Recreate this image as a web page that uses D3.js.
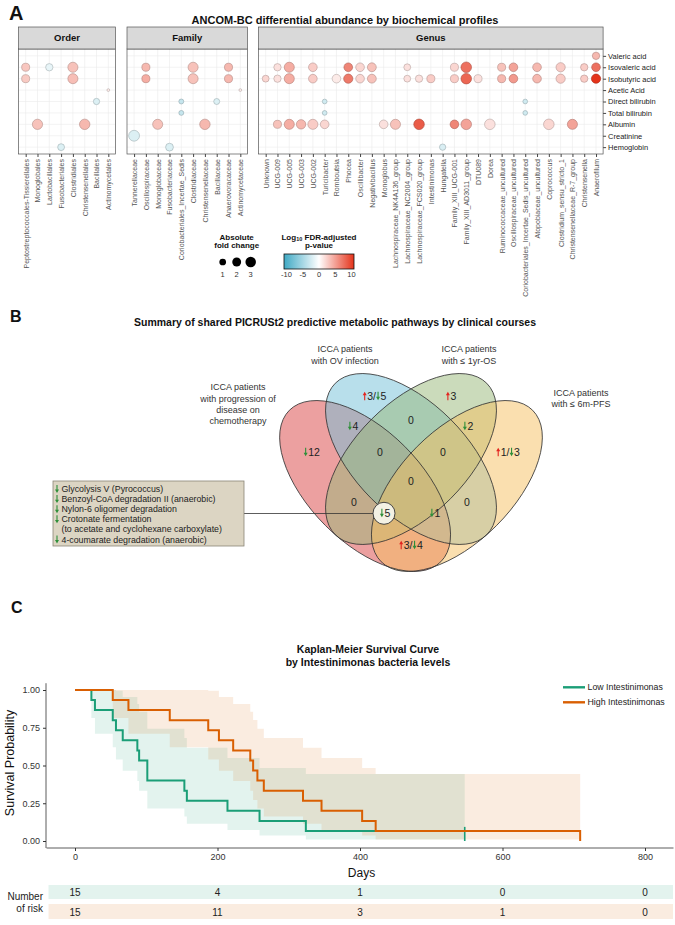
<!DOCTYPE html>
<html><head><meta charset="utf-8">
<script src="https://cdn.jsdelivr.net/npm/d3@7"></script>
<style>body{margin:0;background:#fff}svg{display:block;font-family:"Liberation Sans",Arial,sans-serif}</style>
</head><body><svg id="c" width="675" height="925"></svg>
<script>
// ================= DATA =================
// Panel A
const titleA = "ANCOM-BC differential abundance by biochemical profiles";
const rowLabels = ["Valeric acid","Isovaleric acid","Isobutyric acid","Acetic Acid","Direct bilirubin","Total bilirubin","Albumin","Creatinine","Hemoglobin"];
const orderTaxa = ["Peptostreptococcales-Tissierellales","Monoglobales","Lactobacillales","Fusobacteriales","Clostridiales","Christensenellales","Bacillales","Actinomycetales"];
const familyTaxa = ["Tannerellaceae","Oscillospiraceae","Monoglobaceae","Fusobacteriaceae","Coriobacteriales_Incertae_Sedis","Clostridiaceae","Christensenellaceae","Bacillaceae","Anaerovoracaceae","Actinomycetaceae"];
const genusTaxa = ["Unknown","UCG-009","UCG-005","UCG-003","UCG-002","Turicibacter","Romboutsia","Phocea","Oscillibacter","Negativibacillus","Monoglobus","Lachnospiraceae_NK4A136_group","Lachnospiraceae_NC2004_group","Lachnospiraceae_FCS020_group","Intestinimonas","Hungatella","Family_XIII_UCG-001","Family_XIII_AD3011_group","DTU089","Dorea","Ruminococcaceae_uncultured","Oscillospiraceae_uncultured","Coriobacteriales_Incertae_Sedis_uncultured","Atopobiaceae_uncultured","Coprococcus","Clostridium_sensu_stricto_1","Christensenellaceae_R-7_group","Christensenella","Anaerofilum"];
// [taxon, profile, absolute fold change, log10 FDR-adjusted p-value (signed)]
const orderDots = [
 ["Peptostreptococcales-Tissierellales","Isovaleric acid",1.5,2.8],
 ["Lactobacillales","Isovaleric acid",1.2,-1.2],
 ["Clostridiales","Isovaleric acid",2.6,3],
 ["Peptostreptococcales-Tissierellales","Isobutyric acid",1.5,2.6],
 ["Clostridiales","Isobutyric acid",2.6,3.2],
 ["Actinomycetales","Acetic Acid",0.05,1],
 ["Bacillales","Direct bilirubin",0.8,-1.8],
 ["Monoglobales","Albumin",2.7,3],
 ["Christensenellales","Albumin",2.8,3.5],
 ["Fusobacteriales","Hemoglobin",1.0,-1.8]
];
const familyDots = [
 ["Oscillospiraceae","Isovaleric acid",1.5,3.5],
 ["Clostridiaceae","Isovaleric acid",2.6,3],
 ["Anaerovoracaceae","Isovaleric acid",1.5,3.5],
 ["Oscillospiraceae","Isobutyric acid",1.5,4],
 ["Clostridiaceae","Isobutyric acid",2.6,3],
 ["Anaerovoracaceae","Isobutyric acid",1.5,3.5],
 ["Actinomycetaceae","Acetic Acid",0.05,1],
 ["Coriobacteriales_Incertae_Sedis","Direct bilirubin",0.4,-3],
 ["Bacillaceae","Direct bilirubin",0.7,-1.8],
 ["Coriobacteriales_Incertae_Sedis","Total bilirubin",0.4,-3],
 ["Monoglobaceae","Albumin",2.6,3],
 ["Christensenellaceae","Albumin",2.8,3.5],
 ["Tannerellaceae","Creatinine",3.1,-1.8],
 ["Fusobacteriaceae","Hemoglobin",1.4,-1.8]
];
const genusDots = [
 ["Anaerofilum","Valeric acid",1.2,3.5],
 ["UCG-009","Isovaleric acid",1.2,1.5],
 ["UCG-005","Isovaleric acid",2.6,4],
 ["UCG-002","Isovaleric acid",1.8,2.5],
 ["Phocea","Isovaleric acid",1.8,6],
 ["Oscillibacter","Isovaleric acid",1.8,2],
 ["Negativibacillus","Isovaleric acid",1.9,3],
 ["Lachnospiraceae_NC2004_group","Isovaleric acid",1.0,1.5],
 ["Family_XIII_UCG-001","Isovaleric acid",1.5,2],
 ["Family_XIII_AD3011_group","Isovaleric acid",2.9,7],
 ["Ruminococcaceae_uncultured","Isovaleric acid",1.5,3],
 ["Oscillospiraceae_uncultured","Isovaleric acid",1.8,4.5],
 ["Atopobiaceae_uncultured","Isovaleric acid",1.8,3.5],
 ["Clostridium_sensu_stricto_1","Isovaleric acid",2.1,2.5],
 ["Christensenella","Isovaleric acid",1.2,2.5],
 ["Anaerofilum","Isovaleric acid",1.8,7],
 ["Unknown","Isobutyric acid",1.0,2],
 ["UCG-009","Isobutyric acid",1.2,1.5],
 ["UCG-005","Isobutyric acid",2.6,4],
 ["UCG-002","Isobutyric acid",1.8,2.5],
 ["Romboutsia","Isobutyric acid",1.8,1],
 ["Phocea","Isobutyric acid",2.1,6.5],
 ["Oscillibacter","Isobutyric acid",1.8,2],
 ["Negativibacillus","Isobutyric acid",1.9,3],
 ["Lachnospiraceae_NC2004_group","Isobutyric acid",1.0,1.5],
 ["Lachnospiraceae_FCS020_group","Isobutyric acid",1.2,1.5],
 ["Intestinimonas","Isobutyric acid",1.5,2.5],
 ["Family_XIII_UCG-001","Isobutyric acid",1.5,2.5],
 ["Family_XIII_AD3011_group","Isobutyric acid",2.9,7.5],
 ["DTU089","Isobutyric acid",1.5,1.5],
 ["Ruminococcaceae_uncultured","Isobutyric acid",1.5,3.5],
 ["Oscillospiraceae_uncultured","Isobutyric acid",1.8,5],
 ["Atopobiaceae_uncultured","Isobutyric acid",1.8,3.5],
 ["Clostridium_sensu_stricto_1","Isobutyric acid",2.1,2.5],
 ["Christensenella","Isobutyric acid",1.2,2.5],
 ["Anaerofilum","Isobutyric acid",2.1,10],
 ["Turicibacter","Direct bilirubin",0.35,-2.5],
 ["Coriobacteriales_Incertae_Sedis_uncultured","Direct bilirubin",0.35,-2.5],
 ["Turicibacter","Total bilirubin",0.35,-2.5],
 ["Coriobacteriales_Incertae_Sedis_uncultured","Total bilirubin",0.35,-2.5],
 ["UCG-009","Albumin",1.5,3],
 ["UCG-005","Albumin",2.6,4],
 ["UCG-003","Albumin",2.2,3.5],
 ["UCG-002","Albumin",2.6,2.5],
 ["Turicibacter","Albumin",1.8,2],
 ["Monoglobus","Albumin",1.8,1.5],
 ["Lachnospiraceae_NK4A136_group","Albumin",2.6,3],
 ["Lachnospiraceae_FCS020_group","Albumin",2.9,8],
 ["Family_XIII_UCG-001","Albumin",1.8,6],
 ["Family_XIII_AD3011_group","Albumin",2.9,4.5],
 ["Dorea","Albumin",2.9,1.5],
 ["Coprococcus","Albumin",2.9,2],
 ["Christensenellaceae_R-7_group","Albumin",2.6,4.5],
 ["Hungatella","Hemoglobin",0.8,-2]
];
const sizeBreaks = [1,2,3];
const colorBreaks = [-10,-5,0,5,10];

// Panel B
const titleB = "Summary of shared PICRUSt2 predictive metabolic pathways by clinical courses";
const setNames = [
 ["ICCA patients","with progression of","disease on","chemotherapy"],
 ["ICCA patients","with OV infection"],
 ["ICCA patients","with \u2264 1yr-OS"],
 ["ICCA patients","with \u2264 6m-PFS"]
];
const regionKeys = ["P","O","S","F","PO","OS","SF","POS","OSF","POSF","PS","PSF","POF","OF","PF"];
const regionUp   = [0,3,3,1,0,0,0,0,0,0,0,0,0,0,3];
const regionDown = [12,5,0,3,4,0,2,0,0,0,0,5,1,0,4];
const sharedPathways = ["Glycolysis V (Pyrococcus)","Benzoyl-CoA degradation II (anaerobic)","Nylon-6 oligomer degradation","Crotonate fermentation|(to acetate and cyclohexane carboxylate)","4-coumarate degradation (anaerobic)"];

// Panel C
const titleC = ["Kaplan-Meier Survival Curve","by Intestinimonas bacteria levels"];
const groups = ["Low Intestinimonas","High Intestinimonas"];
const lowTimes = [0,23,28,53,57.5,67,87.5,90,101.5,153.5,157,214,259,324,547];
const lowSurv  = [1,0.933,0.867,0.8,0.733,0.667,0.6,0.533,0.4,0.333,0.267,0.2,0.133,0.067,0.067];
const lowLower = [1,0.815,0.711,0.621,0.540,0.466,0.397,0.332,0.215,0.163,0.115,0.073,0.037,0.010,0.010];
const lowUpper = [1,1,1,1,0.995,0.953,0.907,0.856,0.743,0.682,0.617,0.550,0.484,0.443,0.443];
const lowCensor = [547];
const highTimes = [0,53,75,133,187,202,222,246,250,256,265,320,346,403,422,709];
const highSurv  = [1,0.933,0.867,0.8,0.733,0.667,0.6,0.533,0.467,0.4,0.333,0.267,0.2,0.133,0.067,0];
const highLower = [1,0.815,0.711,0.621,0.540,0.466,0.397,0.332,0.272,0.215,0.163,0.115,0.073,0.037,0.010,null];
const highUpper = [1,1,1,1,0.995,0.953,0.907,0.856,0.802,0.743,0.682,0.617,0.550,0.484,0.443,null];
const riskTimes = [0,200,400,600,800];
const lowRisk  = [15,4,1,0,0];
const highRisk = [15,11,3,1,0];
const survTicks = [0,0.25,0.5,0.75,1];
const dayTicks = [0,200,400,600,800];

// ================= DRAW =================
const svg = d3.select("#c");
function T(g,x,y,s,fs,opt={}){
  const t=g.append("text").attr("x",x).attr("y",y).attr("font-size",fs).text(s);
  if(opt.anchor) t.attr("text-anchor",opt.anchor);
  if(opt.bold) t.attr("font-weight","bold");
  t.attr("fill",opt.fill||"#111");
  if(opt.dy) t.attr("dy",opt.dy);
  return t;
}
function measure(s,fs){
  const t=svg.append("text").attr("font-size",fs).text(s);
  const w=t.node().getComputedTextLength(); t.remove(); return w;
}

// ---------- Panel A ----------
T(svg,9,20,"A",20,{bold:true});
T(svg,345,24,titleA,11,{bold:true,anchor:"middle"});
const yRow = d3.scalePoint().domain(rowLabels).range([49,154]).padding(0.6);
const rScale = d3.scalePow().exponent(0.5).domain([0,3.2]).range([0.8,5.5]);
const cScale = d3.scaleLinear().domain([-10,0,10]).range(["#3fa9c4","#ffffff","#e5331a"]).clamp(true);
const facets = [
 {name:"Order",taxa:orderTaxa,dots:orderDots,x0:18.6,x1:115.4},
 {name:"Family",taxa:familyTaxa,dots:familyDots,x0:127,x1:247.4},
 {name:"Genus",taxa:genusTaxa,dots:genusDots,x0:258.6,x1:603.1}
];
facets.forEach(f=>{
  const x=d3.scalePoint().domain(f.taxa).range([f.x0,f.x1]).padding(0.6);
  const g=svg.append("g");
  g.append("rect").attr("x",f.x0).attr("y",49).attr("width",f.x1-f.x0).attr("height",105).attr("fill","#fff");
  g.selectAll(".gv").data(f.taxa).join("line").attr("x1",d=>x(d)).attr("x2",d=>x(d)).attr("y1",49).attr("y2",154).attr("stroke","#ebebeb").attr("stroke-width",0.6);
  g.selectAll(".gh").data(rowLabels).join("line").attr("y1",d=>yRow(d)).attr("y2",d=>yRow(d)).attr("x1",f.x0).attr("x2",f.x1).attr("stroke","#ebebeb").attr("stroke-width",0.6);
  g.selectAll("circle").data(f.dots).join("circle")
    .attr("cx",d=>x(d[0])).attr("cy",d=>yRow(d[1])).attr("r",d=>rScale(d[2]))
    .attr("fill",d=>cScale(d[3])).attr("stroke",d=>d3.color(cScale(d[3])).darker(0.9)).attr("stroke-width",0.6);
  g.append("rect").attr("x",f.x0).attr("y",49).attr("width",f.x1-f.x0).attr("height",105).attr("fill","none").attr("stroke","#555").attr("stroke-width",0.7);
  g.append("rect").attr("x",f.x0).attr("y",27).attr("width",f.x1-f.x0).attr("height",22).attr("fill","#d9d9d9").attr("stroke","#555").attr("stroke-width",0.7);
  T(g,(f.x0+f.x1)/2,38,f.name,9.5,{bold:true,anchor:"middle",dy:"0.35em"});
  const ax=g.append("g").attr("transform","translate(0,154)").call(d3.axisBottom(x).tickSize(3));
  ax.select(".domain").remove();
  ax.selectAll("line").attr("stroke","#444");
  ax.selectAll("text").attr("transform","rotate(-90)").attr("text-anchor","end").attr("x",-5).attr("y",0).attr("dy","0.35em")
    .attr("font-size",7).attr("fill","#555").attr("font-family","'Liberation Sans',Arial,sans-serif");
});
const ay=svg.append("g").attr("transform","translate(603.1,0)").call(d3.axisRight(yRow).tickSize(3));
ay.select(".domain").remove();
ay.selectAll("line").attr("stroke","#444");
ay.selectAll("text").attr("x",5).attr("font-size",7.5).attr("fill","#222").attr("font-family","'Liberation Sans',Arial,sans-serif");

// legends
T(svg,236.7,239.5,"Absolute",8,{bold:true,anchor:"middle"});
T(svg,236.7,248,"fold change",8,{bold:true,anchor:"middle"});
const sx=d3.scalePoint().domain(sizeBreaks).range([222.7,250.7]);
svg.selectAll(".sl").data(sizeBreaks).join("circle").attr("cx",d=>sx(d)).attr("cy",262).attr("r",d=>rScale(d)*0.98).attr("fill","#000");
sizeBreaks.forEach(d=>T(svg,sx(d),277,String(d),7.5,{anchor:"middle",fill:"#333"}));
const lt=T(svg,319,239.5,"Log",8,{bold:true,anchor:"middle"});
lt.append("tspan").attr("font-size",5.5).attr("dy",1.5).text("10");
lt.append("tspan").attr("dy",-1.5).text(" FDR-adjusted");
T(svg,319,248,"p-value",8,{bold:true,anchor:"middle"});
const grad=svg.append("defs").append("linearGradient").attr("id","cg");
[[0,-10],[0.25,-5],[0.5,0],[0.75,5],[1,10]].forEach(s=>grad.append("stop").attr("offset",s[0]).attr("stop-color",cScale(s[1])));
svg.append("rect").attr("x",284).attr("y",254).attr("width",70).attr("height",15).attr("fill","url(#cg)").attr("stroke","#111").attr("stroke-width",0.8);
const cx=d3.scaleLinear().domain([-10,10]).range([286.5,351.5]);
colorBreaks.forEach(d=>T(svg,cx(d),277,String(d),7.5,{anchor:"middle",fill:"#333"}));

// ---------- Panel B ----------
T(svg,10,322,"B",16,{bold:true});
T(svg,335,326,titleB,10.5,{bold:true,anchor:"middle"});
const U=306, a=0.35*U, b=56;
const ellipses=[
 {cx:365.1,cy:486,rot:45,fill:"#d94141"},
 {cx:411,cy:459,rot:45,fill:"#72bfd8"},
 {cx:411,cy:459,rot:-45,fill:"#98b877"},
 {cx:456.9,cy:486,rot:-45,fill:"#f5c060"}
];
const vg=svg.append("g");
ellipses.forEach(e=>vg.append("ellipse").attr("transform",`translate(${e.cx},${e.cy}) rotate(${e.rot})`).attr("rx",a).attr("ry",b).attr("fill",e.fill).attr("fill-opacity",0.5));
ellipses.forEach(e=>vg.append("ellipse").attr("transform",`translate(${e.cx},${e.cy}) rotate(${e.rot})`).attr("rx",a).attr("ry",b).attr("fill","none").attr("stroke","#333").attr("stroke-width",0.8));
// set labels
const setPos=[[238,387.3],[345,349.3],[469,349.3],[581,392.7]];
setNames.forEach((lines,i)=>lines.forEach((l,j)=>T(svg,setPos[i][0],setPos[i][1]+j*11.3,l,9,{anchor:"middle",fill:"#333",dy:"0.35em"})));
// arrow helper
function arrow(g,x,cy,dir,col,h){
  const t=cy-h/2, bt=cy+h/2;
  const p = dir==="up"
   ? `M${x},${t}L${x-2},${t+3.4}L${x-0.55},${t+3.4}L${x-0.55},${bt}L${x+0.55},${bt}L${x+0.55},${t+3.4}L${x+2},${t+3.4}Z`
   : `M${x},${bt}L${x-2},${bt-3.4}L${x-0.55},${bt-3.4}L${x-0.55},${t}L${x+0.55},${t}L${x+0.55},${bt-3.4}L${x+2},${bt-3.4}Z`;
  g.append("path").attr("d",p).attr("fill",col);
}
const RED="#e3241e", GRN="#2f8f3a";
function countLabel(g,cxp,cyp,up,down,fs){
  const toks=[];
  if(up>0){toks.push({k:"a",d:"up"});toks.push({k:"t",s:String(up)});}
  if(up>0&&down>0) toks.push({k:"t",s:"/"});
  if(down>0){toks.push({k:"a",d:"down"});toks.push({k:"t",s:String(down)});}
  if(!toks.length) toks.push({k:"t",s:"0"});
  toks.forEach(t=>t.w = t.k==="a"?4.6:measure(t.s,fs));
  const W=d3.sum(toks,t=>t.w);
  let xx=cxp-W/2;
  toks.forEach(t=>{
    if(t.k==="a") arrow(g,xx+2.1,cyp,t.d,t.d==="up"?RED:GRN,8.5);
    else T(g,xx,cyp,t.s,fs,{fill:"#222",dy:"0.36em"});
    xx+=t.w;
  });
}
const regionPos={P:[311.7,452],O:[374.5,396],S:[451,396],F:[508,452],PO:[353,426],OS:[411,420],SF:[468,426],POS:[380,452],OSF:[443,452],POSF:[411,481],PS:[354,502],PSF:[385,513],POF:[435,513],OF:[467,502],PF:[411,545]};
// connector + circle
svg.append("line").attr("x1",244).attr("x2",373).attr("y1",513.5).attr("y2",513.5).attr("stroke","#333").attr("stroke-width",0.8);
svg.append("circle").attr("cx",384).attr("cy",513.3).attr("r",11).attr("fill","#f3f1e4").attr("stroke","#333").attr("stroke-width",0.9);
regionKeys.forEach((k,i)=>countLabel(svg,regionPos[k][0],regionPos[k][1],regionUp[i],regionDown[i],10.5));
// box
svg.append("rect").attr("x",53).attr("y",481).attr("width",191).attr("height",65).attr("fill","#dcd5c3").attr("stroke","#8a8677").attr("stroke-width",0.8);
let ly=489;
sharedPathways.forEach(p=>{
  const parts=p.split("|");
  arrow(svg,57,ly,"down",GRN,8);
  parts.forEach((s,j)=>{T(svg,61.5,ly,s,8.8,{fill:"#222",dy:"0.35em"}); ly+=10.1;});
});

// ---------- Panel C ----------
T(svg,11,613,"C",16,{bold:true});
T(svg,368,653,titleC[0],10.5,{bold:true,anchor:"middle"});
T(svg,368,666,titleC[1],10.5,{bold:true,anchor:"middle"});
const x=d3.scaleLinear().domain([0,800]).range([75,645]);
const y=d3.scaleLinear().domain([0,1]).range([841,690]);
const GCOL="#1b9e77", OCOL="#d95f02";
function pts(times,s,lo,hi){return times.map((t,i)=>({t,s:s[i],lo:lo[i]==null?lo[i-1]:lo[i],hi:hi[i]==null?hi[i-1]:hi[i]}));}
const lowP=pts(lowTimes,lowSurv,lowLower,lowUpper), highP=pts(highTimes,highSurv,highLower,highUpper);
const area=d3.area().curve(d3.curveStepAfter).x(d=>x(d.t)).y0(d=>y(d.lo)).y1(d=>y(d.hi));
svg.append("path").attr("d",area(lowP)).attr("fill",GCOL).attr("fill-opacity",0.12);
svg.append("path").attr("d",area(highP)).attr("fill",OCOL).attr("fill-opacity",0.12);
const line=d3.line().curve(d3.curveStepAfter).x(d=>x(d.t)).y(d=>y(d.s));
svg.append("path").attr("d",line(lowP)).attr("fill","none").attr("stroke",GCOL).attr("stroke-width",2);
lowCensor.forEach(c=>svg.append("line").attr("x1",x(c)).attr("x2",x(c)).attr("y1",y(0.067)-4).attr("y2",y(0)).attr("stroke",GCOL).attr("stroke-width",1.6));
svg.append("path").attr("d",line(highP)).attr("fill","none").attr("stroke",OCOL).attr("stroke-width",2);
// axes
const xa=svg.append("g").attr("transform","translate(0,848)").call(d3.axisBottom(x).tickValues(dayTicks).tickSize(3));
xa.select(".domain").remove();
svg.append("line").attr("x1",x(-40)).attr("x2",x(840)).attr("y1",848).attr("y2",848).attr("stroke","#333").attr("stroke-width",0.8);
xa.selectAll("line").attr("stroke","#333");
xa.selectAll("text").attr("font-size",9).attr("fill","#333").attr("font-family","'Liberation Sans',Arial,sans-serif");
const ya=svg.append("g").attr("transform","translate(46,0)").call(d3.axisLeft(y).tickValues(survTicks).tickFormat(d3.format(".2f")).tickSize(3));
ya.select(".domain").remove();
svg.append("line").attr("x1",46).attr("x2",46).attr("y1",y(1.045)).attr("y2",848).attr("stroke","#333").attr("stroke-width",0.8);
ya.selectAll("line").attr("stroke","#333");
ya.selectAll("text").attr("font-size",9).attr("fill","#333").attr("font-family","'Liberation Sans',Arial,sans-serif");
T(svg,361.5,877,"Days",12,{anchor:"middle",fill:"#111"});
T(svg,0,0,"Survival Probability",12.5,{anchor:"middle",fill:"#111"}).attr("transform","translate(14,763) rotate(-90)");
// legend
[[GCOL,687.3],[OCOL,702.3]].forEach((l,i)=>{
  svg.append("line").attr("x1",563).attr("x2",585).attr("y1",l[1]).attr("y2",l[1]).attr("stroke",l[0]).attr("stroke-width",2.4);
  T(svg,587.5,l[1],groups[i],8.8,{fill:"#222",dy:"0.35em"});
});
// risk table
svg.append("rect").attr("x",48.5).attr("y",885).attr("width",624.5).attr("height",14).attr("fill",GCOL).attr("fill-opacity",0.12);
svg.append("rect").attr("x",48.5).attr("y",904).attr("width",624.5).attr("height",15).attr("fill",OCOL).attr("fill-opacity",0.12);
riskTimes.forEach((t,i)=>{
  T(svg,x(t),892.5,String(lowRisk[i]),10,{anchor:"middle",fill:"#222",dy:"0.35em"});
  T(svg,x(t),912,String(highRisk[i]),10,{anchor:"middle",fill:"#222",dy:"0.35em"});
});
T(svg,43,896,"Number",10,{anchor:"end",fill:"#222",dy:"0.35em"});
T(svg,43,908,"of risk",10,{anchor:"end",fill:"#222",dy:"0.35em"});
</script></body></html>
